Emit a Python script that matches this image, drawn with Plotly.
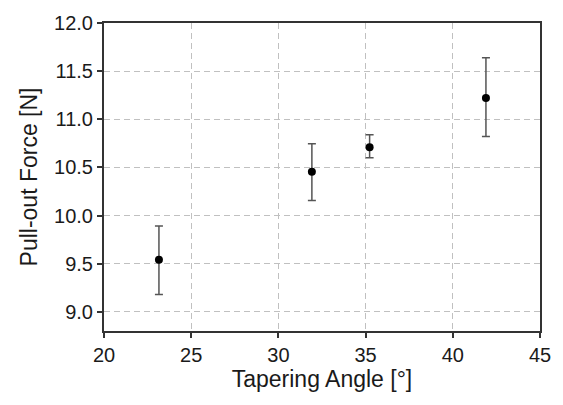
import plotly.graph_objects as go

angles = [23.15, 31.92, 35.23, 41.9]
force = [9.54, 10.455, 10.71, 11.22]
err_plus = [0.35, 0.29, 0.13, 0.42]
err_minus = [0.36, 0.30, 0.11, 0.40]
x_ticks = [20, 25, 30, 35, 40, 45]
y_ticks = [9.0, 9.5, 10.0, 10.5, 11.0, 11.5, 12.0]

fig = go.Figure()
fig.add_trace(go.Scatter(
    x=angles, y=force, mode="markers",
    marker=dict(color="black", size=8),
    error_y=dict(type="data", symmetric=False, array=err_plus, arrayminus=err_minus,
                 color="#555555", thickness=1.5, width=4),
    showlegend=False,
))

font = "Liberation Sans, Arial, sans-serif"
fig.update_layout(
    width=563, height=405,
    margin=dict(l=104, r=12, t=19, b=74),
    paper_bgcolor="white", plot_bgcolor="white",
    font=dict(family=font, color="#1a1a1a", size=20),
)
common = dict(
    showgrid=True, gridcolor="#c0c0c0", griddash="6px,4px", gridwidth=1,
    showline=True, linecolor="#333333", linewidth=2, mirror=True,
    ticks="outside", ticklen=5, tickcolor="#333333", tickwidth=1.5,
    tickfont=dict(size=20), zeroline=False,
)
fig.update_xaxes(
    range=[20, 45], tickvals=x_ticks,
    title=dict(text="Tapering Angle [°]", font=dict(size=23), standoff=6),
    **common,
)
fig.update_yaxes(
    range=[8.8, 12.0], tickvals=y_ticks, tickformat=".1f",
    title=dict(text="Pull-out Force [N]", font=dict(size=23), standoff=10),
    **common,
)

fig.write_html("out.html",
               config={"displayModeBar": False},
               post_script="document.body.style.margin='0';document.body.style.overflow='hidden';")
